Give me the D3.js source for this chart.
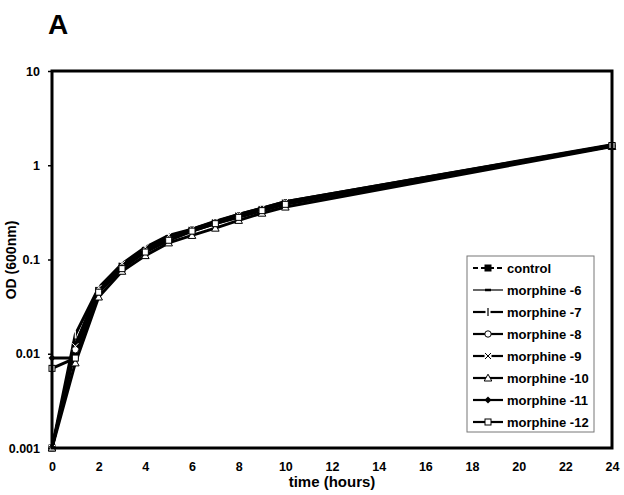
<!DOCTYPE html>
<html><head><meta charset="utf-8">
<script src="https://cdn.jsdelivr.net/npm/d3@7"></script>
<style>body{margin:0;background:#fff}svg{display:block}text{font-family:"Liberation Sans",Arial,sans-serif;font-weight:bold}</style>
</head><body>
<svg id="c" width="624" height="495"></svg>
<script>
const times = [0,1,2,3,4,5,6,7,8,9,10,24];
const seriesNames = ["control","morphine -6","morphine -7","morphine -8","morphine -9","morphine -10","morphine -11","morphine -12"];
const control = [0.001,0.012,0.047,0.085,0.125,0.165,0.205,0.245,0.29,0.34,0.40,1.6];
const m6  = [0.001,0.013,0.048,0.086,0.128,0.168,0.21,0.25,0.295,0.345,0.41,1.62];
const m7  = [0.001,0.016,0.05,0.088,0.13,0.17,0.21,0.25,0.30,0.35,0.41,1.65];
const m8  = [0.001,0.011,0.047,0.084,0.125,0.165,0.205,0.245,0.29,0.34,0.40,1.6];
const m9  = [0.001,0.012,0.05,0.09,0.135,0.18,0.21,0.255,0.30,0.35,0.41,1.63];
const m10 = [0.001,0.008,0.04,0.075,0.11,0.15,0.18,0.215,0.26,0.31,0.36,1.58];
const m11 = [0.009,0.009,0.045,0.082,0.122,0.162,0.2,0.24,0.285,0.335,0.39,1.6];
const m12 = [0.007,0.009,0.045,0.08,0.12,0.16,0.2,0.24,0.28,0.33,0.385,1.62];
const seriesValues = [control,m6,m7,m8,m9,m10,m11,m12];
const xTicks = [0,2,4,6,8,10,12,14,16,18,20,22,24];
const yTicks = [0.001,0.01,0.1,1,10];
const yTickLabels = ["0.001","0.01","0.1","1","10"];
const markers = ["fsquare","dash","plus","circle","cross","triangle","diamond","square"];

const svg = d3.select("#c");
const L=52,R=612,T=71,B=448;
const x = d3.scaleLinear().domain([0,24]).range([L,R]);
const y = d3.scaleLog().domain([0.001,10]).range([B,T]);

svg.append("text").attr("x",48).attr("y",34).attr("font-size",28).text("A");

// axes
const xa = svg.append("g").attr("transform",`translate(0,${B})`)
  .call(d3.axisBottom(x).tickValues(xTicks).tickSize(0).tickPadding(14).tickFormat(d3.format("d")));
xa.select(".domain").remove();
xa.selectAll("text").attr("font-size",12.5).attr("fill","#000").attr("font-family","Liberation Sans, Arial").attr("font-weight","bold");
const ya = svg.append("g").attr("transform",`translate(${L},0)`)
  .call(d3.axisLeft(y).tickValues(yTicks).tickSize(4).tickPadding(8).tickFormat((d,i)=>yTickLabels[i]));
ya.select(".domain").remove();
ya.selectAll("line").attr("stroke","#000").attr("stroke-width",1.5);
ya.selectAll("text").attr("font-size",12.5).attr("fill","#000").attr("font-family","Liberation Sans, Arial").attr("font-weight","bold");

svg.append("text").attr("x",332).attr("y",487).attr("text-anchor","middle").attr("font-size",15).text("time (hours)");
svg.append("text").attr("transform","translate(16,260) rotate(-90)").attr("text-anchor","middle").attr("font-size",14).text("OD (600nm)");

// series
const line = d3.line().x((d,i)=>x(times[i])).y(d=>y(d));
function marker(g,type,cx,cy,leg){
  const s=3;
  if(type==="fsquare") g.append("rect").attr("x",cx-3.5).attr("y",cy-3.5).attr("width",7).attr("height",7).attr("fill","#000");
  else if(type==="square") g.append("rect").attr("x",cx-3).attr("y",cy-3).attr("width",6).attr("height",6).attr("fill","#fff").attr("stroke","#000").attr("stroke-width",1);
  else if(type==="circle") g.append("circle").attr("cx",cx).attr("cy",cy).attr("r",3.2).attr("fill","#fff").attr("stroke","#000").attr("stroke-width",1);
  else if(type==="triangle") g.append("path").attr("d",`M${cx},${cy-3.8}L${cx+3.8},${cy+3}L${cx-3.8},${cy+3}Z`).attr("fill","#fff").attr("stroke","#000").attr("stroke-width",1);
  else if(type==="diamond") g.append("path").attr("d",`M${cx},${cy-3.5}L${cx+3.5},${cy}L${cx},${cy+3.5}L${cx-3.5},${cy}Z`).attr("fill","#000");
  else if(type==="cross") {
    if(leg) g.append("rect").attr("x",cx-3.5).attr("y",cy-2).attr("width",7).attr("height",4).attr("fill","#fff");
    g.append("path").attr("d",`M${cx-s},${cy-s}L${cx+s},${cy+s}M${cx-s},${cy+s}L${cx+s},${cy-s}`).attr("stroke",leg?"#000":"#fff").attr("stroke-width",1);
  }
  else if(type==="plus") {
    if(leg) g.append("rect").attr("x",cx-2.5).attr("y",cy-2).attr("width",5).attr("height",4).attr("fill","#fff");
    g.append("path").attr("d",`M${cx},${cy-4}L${cx},${cy+4}`).attr("stroke",leg?"#000":"#fff").attr("stroke-width",1.2);
  }
  else if(type==="dash") g.append("path").attr("d",`M${cx-3},${cy}L${cx+3},${cy}`).attr("stroke","#000").attr("stroke-width",2.5);
}
const gS = svg.append("g");
seriesValues.forEach((vals,k)=>{
  gS.append("path").datum(vals).attr("d",line).attr("fill","none").attr("stroke","#000")
    .attr("stroke-width",k===1?1.8:3).attr("stroke-dasharray",k===0?"6,3":null);
});
seriesValues.forEach((vals,k)=>{
  vals.forEach((v,i)=>marker(gS,markers[k],x(times[i]),y(v),false));
});

// frame
svg.append("rect").attr("x",L).attr("y",T).attr("width",R-L).attr("height",B-T).attr("fill","none").attr("stroke","#000").attr("stroke-width",3);

// legend
const lg = svg.append("g");
lg.append("rect").attr("x",467).attr("y",256).attr("width",127).attr("height",176).attr("fill","#fff").attr("stroke","#777").attr("stroke-width",1);
seriesNames.forEach((n,k)=>{
  const ly = 268 + k*22;
  lg.append("line").attr("x1",473).attr("x2",503).attr("y1",ly).attr("y2",ly).attr("stroke","#000")
    .attr("stroke-width",k===1?1.2:2.2).attr("stroke-dasharray",k===0?"5,3":null);
  marker(lg,markers[k],488,ly,true);
  lg.append("text").attr("x",507).attr("y",ly+4.5).attr("font-size",13).text(n);
});
</script>
</body></html>
